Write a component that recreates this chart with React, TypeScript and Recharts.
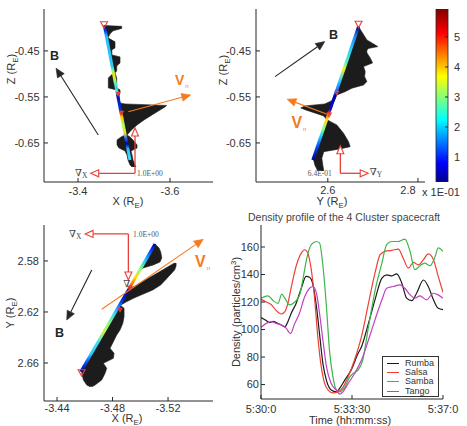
import React from "react";
import {
  ComposedChart, LineChart, BarChart, Line, Area, Bar, XAxis, YAxis,
  ReferenceLine, ReferenceDot, Legend,
} from "recharts";

const FONT = "'Liberation Sans', Arial, Helvetica, sans-serif";
const SERIF = "'Liberation Serif', 'DejaVu Serif', serif";
const INK = "#262626";
const ORANGE = "#f47b20";
const RED = "#e8403a";

// density of the four spacecraft: [seconds after 05:30:00, particles/cm^3]
const RUMBA = [[0, 108.7], [12, 106.5], [20, 105], [28, 106], [35, 105], [47, 103.3], [55, 102], [62, 105.7], [70, 112], [81, 119], [93, 130], [104, 138.6], [112, 138], [120, 132.5], [128, 116.7], [135, 97], [143, 75], [151, 63], [162, 56], [174, 54.7], [181, 57], [193, 63], [208, 70.5], [224, 82.6], [232, 87.5], [248, 104.5], [263, 121.6], [279, 137.4], [290, 139.8], [302, 139], [313, 140.5], [325, 133.7], [336, 122.8], [348, 121], [359, 126.4], [375, 136], [386, 131.3], [398, 121.6], [409, 115.5], [420, 114.5]];
const SALSA = [[0, 122], [12, 120], [24, 118], [35, 113.8], [47, 111.3], [55, 113], [62, 119], [70, 131], [81, 146], [93, 155.6], [101, 158], [108, 155.6], [116, 143.5], [124, 121.6], [131, 95], [139, 73], [147, 60.7], [155, 56], [166, 54], [178, 54.7], [189, 58], [201, 65.6], [216, 78], [232, 95], [248, 119], [263, 141], [275, 154.4], [286, 156.8], [302, 157.6], [317, 158.5], [328, 152], [340, 144.7], [352, 148.8], [363, 147], [375, 150.8], [386, 155], [398, 150.8], [409, 138.6], [420, 127]];
const SAMBA = [[0, 122.8], [16, 124.5], [28, 121], [39, 119], [48, 125.7], [55, 122.8], [66, 118], [78, 120], [89, 125], [97, 137], [105, 150.8], [116, 161.7], [128, 164], [135, 163], [143, 146], [151, 116.7], [158, 85], [166, 65.6], [174, 56], [181, 54.7], [193, 58], [205, 65.6], [212, 68], [224, 70.5], [235, 78], [248, 102], [263, 128], [279, 148.3], [290, 161.7], [302, 164], [317, 164], [332, 165.8], [344, 156.8], [355, 143.5], [367, 146.4], [378, 148.3], [390, 146.4], [402, 153.2], [409, 159.3], [420, 156.8]];
const TANGO = [[0, 101.6], [12, 104.5], [24, 105.7], [35, 104.5], [47, 103.3], [58, 101], [68, 97], [78, 104.5], [89, 112], [101, 124], [112, 130], [120, 131.3], [128, 126.4], [135, 112], [143, 92], [151, 73], [162, 60.7], [174, 56], [181, 53], [189, 54.7], [201, 60.7], [216, 68], [232, 77.8], [248, 92.4], [263, 107], [279, 121.6], [290, 130], [305, 131.3], [321, 132.5], [332, 130], [344, 125.2], [355, 122.8], [367, 124.5], [382, 121.6], [398, 126.4], [409, 125.2], [420, 122.8]];
const TIME_TICKS = [0, 210, 420];
const TIME_LABELS = ["5:30:0", "5:33:30", "5:37:0"];
const DENSITY_TICKS = [60, 80, 100, 120, 140, 160];

// X-Z projection (R_E)
const XZ_TRACK = [[-3.4572, -0.395], [-3.513, -0.687]];
const XZ_FIN_Z = [-0.395, -0.3967, -0.4011, -0.4065, -0.413, -0.4217, -0.4304, -0.4435, -0.4478, -0.4587, -0.463, -0.4761, -0.4826, -0.4935, -0.4978, -0.5087, -0.5304, -0.5348, -0.5413, -0.5478, -0.563, -0.5652, -0.5685, -0.5717, -0.5783, -0.5891, -0.6, -0.6109, -0.6217, -0.6326, -0.637, -0.6435, -0.6543, -0.6609, -0.6674, -0.6761, -0.687, -0.6978, -0.7022];
const XZ_FIN_LO = [-3.4572, -3.4574, -3.4583, -3.4593, -3.4607, -3.4622, -3.4641, -3.4665, -3.4674, -3.4696, -3.4702, -3.4728, -3.4739, -3.4761, -3.4772, -3.4659, -3.4659, -3.4837, -3.4848, -3.4863, -3.4891, -3.4896, -3.4902, -3.4909, -3.4922, -3.4941, -3.4963, -3.4985, -3.5004, -3.5026, -3.4935, -3.4848, -3.4848, -3.4891, -3.5022, -3.5065, -3.5087, -3.513, -3.5174];
const XZ_FIN_HI = [-3.4572, -3.495, -3.495, -3.4761, -3.4696, -3.4652, -3.4804, -3.4804, -3.4733, -3.4739, -3.4913, -3.4913, -3.4841, -3.4841, -3.4804, -3.4841, -3.4841, -3.4913, -3.4913, -3.4891, -3.4913, -3.5022, -3.5928, -3.5891, -3.5783, -3.5609, -3.5435, -3.5283, -3.5163, -3.5065, -3.513, -3.5196, -3.5283, -3.5283, -3.5152, -3.5174, -3.5196, -3.5239, -3.5261];

// Y-Z projection (R_E)
const YZ_TRACK = [[2.6682, -0.3972], [2.5667, -0.687]];
const YZ_FIN_Z = [-0.3972, -0.4087, -0.4261, -0.4407, -0.4446, -0.4478, -0.4543, -0.4652, -0.4761, -0.4841, -0.495, -0.5059, -0.5167, -0.5239, -0.5311, -0.5385, -0.5457, -0.5565, -0.5652, -0.5696, -0.5739, -0.5783, -0.5848, -0.5913, -0.6, -0.6109, -0.6289, -0.6472, -0.658, -0.663, -0.6689, -0.6833, -0.6978, -0.7109];
const YZ_FIN_LO = [2.6682, 2.6642, 2.658, 2.6529, 2.6516, 2.6504, 2.6482, 2.6444, 2.6404, 2.6378, 2.634, 2.6302, 2.6262, 2.6238, 2.6213, 2.6187, 2.6162, 2.6124, 2.5933, 2.5489, 2.54, 2.5511, 2.5711, 2.5911, 2.5978, 2.5933, 2.5867, 2.58, 2.5767, 2.5749, 2.5729, 2.5678, 2.5711, 2.5778];
const YZ_FIN_HI = [2.6682, 2.6756, 2.6867, 2.7111, 2.6904, 2.6867, 2.6867, 2.694, 2.6993, 2.6793, 2.6829, 2.6816, 2.6867, 2.6793, 2.6533, 2.6384, 2.62, 2.6156, 2.6111, 2.61, 2.6084, 2.6067, 2.6033, 2.6011, 2.5989, 2.62, 2.6349, 2.646, 2.6496, 2.6267, 2.5911, 2.5867, 2.5889, 2.5911];

// X-Y projection (R_E)
const XY_TRACK = [[-3.5106, 2.5667], [-3.4571, 2.6668]];
const XY_FIN_A_Y = [2.5667, 2.5698, 2.5729, 2.5776, 2.5808, 2.5831, 2.5855, 2.5871, 2.6129, 2.6145, 2.6171, 2.6237, 2.6289, 2.6341, 2.638, 2.6433, 2.6485, 2.6524, 2.6563, 2.6602, 2.6642, 2.6681, 2.6733, 2.6773, 2.6786];
const XY_FIN_A_LO = [-3.5106, -3.509, -3.5072, -3.5047, -3.5031, -3.5018, -3.5005, -3.4997, -3.4858, -3.485, -3.4837, -3.4801, -3.4773, -3.4745, -3.4724, -3.4696, -3.4669, -3.4648, -3.4627, -3.4606, -3.459, -3.4578, -3.459, -3.4614, -3.4638];
const XY_FIN_A_HI = [-3.5106, -3.5135, -3.5147, -3.5155, -3.5142, -3.5094, -3.502, -3.4997, -3.4858, -3.4854, -3.4883, -3.4883, -3.4874, -3.4854, -3.483, -3.4806, -3.4782, -3.4811, -3.4806, -3.4734, -3.4758, -3.4746, -3.4722, -3.4674, -3.4652];
const XY_FIN_B_Y = [2.5816, 2.5839, 2.5871, 2.591, 2.5949, 2.5988, 2.6027, 2.6067, 2.609, 2.6122, 2.6145];
const XY_FIN_B_LO = [-3.5247, -3.5209, -3.516, -3.5098, -3.5036, -3.4974, -3.4912, -3.489, -3.488, -3.4863, -3.4854];
const XY_FIN_B_HI = [-3.5258, -3.5258, -3.5247, -3.5214, -3.5181, -3.5147, -3.509, -3.5005, -3.4955, -3.4897, -3.4861];

const CBAR_RANGE = [0.17, 5.93];
const CBAR_TICKS = [1, 2, 3, 4, 5];

const SERIES = [
  { name: "Rumba", points: RUMBA, color: "#1a1a1a" },
  { name: "Salsa", points: SALSA, color: "#ee4035" },
  { name: "Samba", points: SAMBA, color: "#3db54a" },
  { name: "Tango", points: TANGO, color: "#c23fc2" },
];

const JET = [[0, "#00008f"], [0.11, "#0000ff"], [0.36, "#00ffff"], [0.61, "#ffff00"], [0.86, "#ff0000"], [1, "#800000"]];

function arrowShape(color: string, open: boolean, head = 9, half = 4, width = 1.1) {
  return (p: any) => {
    const { x1, y1, x2, y2 } = p;
    const dx = x2 - x1, dy = y2 - y1;
    const len = Math.hypot(dx, dy) || 1;
    const ux = dx / len, uy = dy / len;
    const bx = x2 - ux * head, by = y2 - uy * head;
    const pts = `${x2},${y2} ${bx - uy * half},${by + ux * half} ${bx + uy * half},${by - ux * half}`;
    return (
      <g>
        <line x1={x1} y1={y1} x2={bx} y2={by} stroke={color} strokeWidth={width} />
        <polygon points={pts} fill={open ? "#fff" : color} stroke={color} strokeWidth={open ? 1.1 : 0.6} />
      </g>
    );
  };
}

function markShape(size: number) {
  return (p: any) => {
    const { cx, cy } = p;
    const w = size / 2, h = size * 0.45;
    return <polygon points={`${cx - w},${cy - h} ${cx + w},${cy - h} ${cx},${cy + h}`} fill="none" stroke={RED} strokeWidth={1.1} />;
  };
}

function noteShape(n: any) {
  return (p: any) => {
    const { cx, cy } = p;
    if (n.kind === "B")
      return <text x={cx} y={cy} fontFamily={FONT} fontWeight="bold" fontSize={12.5} fill={INK}>B</text>;
    if (n.kind === "V")
      return (
        <text x={cx} y={cy} fontFamily={FONT} fontWeight="bold" fontSize={n.size} fill={ORANGE}>
          V<tspan fontSize={6} fontWeight="normal" dx={1} dy={3}>n</tspan>
        </text>
      );
    if (n.kind === "grad")
      return (
        <text x={cx} y={cy} fontFamily={SERIF} fontSize={10} fill="#444">
          ∇{n.sub && <tspan fontSize={7.5} dy={2}>{n.sub}</tspan>}
        </text>
      );
    return <text x={cx} y={cy} fontFamily={SERIF} fontSize={7.5} fill="#555">{n.text}</text>;
  };
}

function AxisText({ x, y, vertical, main, sub, sup, size = 11 }: any) {
  return (
    <text x={x} y={y} textAnchor="middle" fontFamily={FONT} fontSize={size} fill="#333"
      transform={vertical ? `rotate(-90 ${x} ${y})` : undefined}>
      {main}
      {sub && <tspan fontSize={size * 0.72} dy={3}>{sub}</tspan>}
      {sup && <tspan fontSize={size * 0.72} dy={-4}>{sup}</tspan>}
      {(sub || sup) && <tspan dy={sub ? -3 : 4}>)</tspan>}
    </text>
  );
}

// x tick with an optional sideways nudge of its label
function xTick(format: (v: number) => string, nudge: Record<string, number>) {
  return (p: any) => {
    const v = p.payload.value;
    return (
      <text x={p.x + (nudge[String(v)] || 0)} y={p.y} dy="0.71em" textAnchor="middle"
        fontFamily={FONT} fontSize={11} fill="#333">{format(v)}</text>
    );
  };
}

const PANELS: any[] = [
  {
    id: "xz", left: 0, top: 0, width: 232, height: 212,
    margin: { top: 9, right: 19, bottom: 0, left: 0 }, yAxisWidth: 44, xAxisHeight: 30,
    xDomain: [-3.6935, -3.326], xTicks: [-3.6, -3.4], xReversed: true, xFormat: (v: number) => v.toFixed(1), xNudge: {}, xTickMargin: 9,
    yDomain: [-0.7348, -0.359], yTicks: [-0.65, -0.55, -0.45], yReversed: true, yFormat: (v: number) => v.toFixed(2), yTickMargin: 8.5,
    track: XZ_TRACK,
    stops: [[0, "#000090"], [0.04, "#0040ff"], [0.08, "#20c0ff"], [0.3, "#30c8f8"], [0.34, "#90ff70"], [0.37, "#ffe000"], [0.41, "#90ff70"], [0.46, "#30d0ff"], [0.5, "#50ffa0"], [0.52, "#0010c0"], [0.63, "#0030e0"], [0.65, "#f03010"], [0.68, "#ffc800"], [0.74, "#a8ff58"], [0.8, "#f0e020"], [0.84, "#2060ff"], [0.88, "#0000a0"], [0.92, "#30c0ff"], [1, "#40e0ff"]],
    fins: [{ v: XZ_FIN_Z, lo: XZ_FIN_LO, hi: XZ_FIN_HI }],
    arrows: [
      { from: [-3.4441, -0.6326], to: [-3.3522, -0.4876], color: INK },
      { from: [-3.5093, -0.582], to: [-3.645, -0.5457], color: ORANGE },
    ],
    corner: [-3.5239, -0.7159], ends: [[-3.5239, -0.6174], [-3.4276, -0.7159]],
    marks: [{ at: [-3.4565, -0.3935], size: 7 }, { at: [-3.487, -0.5435], size: 3.5 }, { at: [-3.4946, -0.5848], size: 3.5 }],
    notes: [
      { at: [-3.3391, -0.4696], kind: "B" },
      { at: [-3.6109, -0.5239], kind: "V", size: 14 },
      { at: [-3.3935, -0.7217], kind: "grad", sub: "X" },
      { at: [-3.5283, -0.7217], kind: "num", text: "1.0E+00" },
    ],
    titles: () => (
      <g>
        <AxisText x={15} y={69} vertical main="Z (R" sub="E" />
        <AxisText x={128} y={205} main="X (R" sub="E" />
      </g>
    ),
  },
  {
    id: "yz", left: 212, top: 0, width: 255, height: 212,
    margin: { top: 9, right: 42, bottom: 0, left: 0 }, yAxisWidth: 44, xAxisHeight: 30,
    xDomain: [2.4407, 2.8156], xTicks: [2.6, 2.8], xReversed: false, xFormat: (v: number) => v.toFixed(1), xNudge: { "2.8": -10 }, xTickMargin: 8,
    yDomain: [-0.7348, -0.359], yTicks: [-0.65, -0.55, -0.45], yReversed: true, yFormat: (v: number) => v.toFixed(2), yTickMargin: 9,
    track: YZ_TRACK,
    stops: [[0, "#000090"], [0.07, "#2080ff"], [0.17, "#20d0ff"], [0.27, "#60f0c0"], [0.32, "#f0f020"], [0.4, "#30d0ff"], [0.48, "#2070ff"], [0.52, "#0000b0"], [0.62, "#0010d0"], [0.65, "#ff4010"], [0.7, "#ffe020"], [0.77, "#80ff80"], [0.82, "#20d0ff"], [0.9, "#0050ff"], [1, "#000090"]],
    fins: [{ v: YZ_FIN_Z, lo: YZ_FIN_LO, hi: YZ_FIN_HI }],
    arrows: [
      { from: [2.4829, -0.5059], to: [2.5933, -0.4298], color: INK },
      { from: [2.6029, -0.5891], to: [2.5096, -0.555], color: ORANGE },
    ],
    corner: [2.6278, -0.7159], ends: [[2.6278, -0.6559], [2.6896, -0.7159]],
    marks: [{ at: [2.6682, -0.3924], size: 7 }, { at: [2.62, -0.5413], size: 3.5 }, { at: [2.6033, -0.5891], size: 4 }],
    notes: [
      { at: [2.6029, -0.4246], kind: "B" },
      { at: [2.5193, -0.618], kind: "V", size: 16 },
      { at: [2.5556, -0.7217], kind: "num", text: "6.4E-01" },
      { at: [2.6933, -0.7196], kind: "grad", sub: "Y" },
    ],
    titles: () => (
      <g>
        <AxisText x={15} y={70} vertical main="Z (R" sub="E" />
        <AxisText x={120} y={204.5} main="Y (R" sub="E" />
      </g>
    ),
  },
  {
    id: "xy", left: 0, top: 210, width: 232, height: 216,
    margin: { top: 15, right: 19, bottom: 0, left: 0 }, yAxisWidth: 44, xAxisHeight: 25,
    xDomain: [-3.5524, -3.4306], xTicks: [-3.52, -3.48, -3.44], xReversed: true, xFormat: (v: number) => v.toFixed(2), xNudge: {}, xTickMargin: 7,
    yDomain: [2.5518, 2.6898], yTicks: [2.58, 2.62, 2.66], yReversed: false, yFormat: (v: number) => v.toFixed(2), yTickMargin: 9,
    track: XY_TRACK,
    stops: [[0, "#000090"], [0.05, "#0040ff"], [0.13, "#20c8ff"], [0.2, "#90ff70"], [0.26, "#ffe000"], [0.33, "#ff5010"], [0.37, "#0000a0"], [0.44, "#0030e0"], [0.49, "#2080ff"], [0.54, "#30d0ff"], [0.62, "#80ff80"], [0.69, "#d0f040"], [0.77, "#40e0f0"], [0.86, "#30c8ff"], [0.93, "#0050ff"], [1, "#000090"]],
    fins: [{ v: XY_FIN_A_Y, lo: XY_FIN_A_LO, hi: XY_FIN_A_HI }, { v: XY_FIN_B_Y, lo: XY_FIN_B_LO, hi: XY_FIN_B_HI }],
    arrows: [
      { from: [-3.465, 2.5871], to: [-3.447, 2.6263], color: INK },
      { from: [-3.4722, 2.6179], to: [-3.5454, 2.563], color: ORANGE },
    ],
    corner: [-3.4914, 2.5588], ends: [[-3.4914, 2.5949], [-3.4602, 2.5588]],
    marks: [{ at: [-3.4577, 2.6678], size: 7 }, { at: [-3.4854, 2.6184], size: 3.5 }, { at: [-3.4926, 2.6012], size: 4 }],
    notes: [
      { at: [-3.4486, 2.5612], kind: "grad", sub: "X" },
      { at: [-3.4948, 2.5612], kind: "num", text: "1.0E+00" },
      { at: [-3.4878, 2.6004], kind: "grad" },
      { at: [-3.4386, 2.6394], kind: "B" },
      { at: [-3.5395, 2.585], kind: "V", size: 16 },
    ],
    titles: () => (
      <g>
        <AxisText x={14} y={103} vertical main="Y (R" sub="E" />
        <AxisText x={127} y={212} main="X (R" sub="E" />
      </g>
    ),
  },
];

function OrbitPanel({ cfg }: { cfg: any }) {
  const track = cfg.track.map(([h, v]: number[]) => ({ h, v }));
  const fins = cfg.fins.map((f: any) => f.v.map((v: number, i: number) => ({ v, r: [f.lo[i], f.hi[i]] })));
  const tickProps = { fontSize: 11, fill: "#333", fontFamily: FONT };
  const gid = `track-${cfg.id}`;
  const pt = (a: number[]) => ({ x: a[0], y: a[1] });
  return (
    <div style={{ position: "absolute", left: cfg.left, top: cfg.top }}>
      <ComposedChart layout="vertical" width={cfg.width} height={cfg.height} margin={cfg.margin}>
        <defs>
          <linearGradient id={gid} x1="0" y1="0" x2="0" y2="1">
            {cfg.stops.map(([o, c]: any, i: number) => <stop key={i} offset={o} stopColor={c} />)}
          </linearGradient>
        </defs>
        <XAxis type="number" domain={cfg.xDomain} ticks={cfg.xTicks} reversed={cfg.xReversed} allowDataOverflow
          height={cfg.xAxisHeight} tickSize={-4} tickMargin={cfg.xTickMargin}
          tick={xTick(cfg.xFormat, cfg.xNudge)} stroke={INK} label={cfg.titles} />
        <XAxis xAxisId="top" orientation="top" type="number" domain={cfg.xDomain} ticks={cfg.xTicks}
          reversed={cfg.xReversed} allowDataOverflow height={0} tickSize={-4} tickFormatter={() => ""} stroke={INK} />
        <YAxis type="number" dataKey="v" domain={cfg.yDomain} ticks={cfg.yTicks} reversed={cfg.yReversed} allowDataOverflow
          width={cfg.yAxisWidth} tickSize={-4} tickMargin={cfg.yTickMargin} tick={tickProps}
          tickFormatter={cfg.yFormat} stroke={INK} />
        <YAxis yAxisId="right" orientation="right" type="number" dataKey="v" domain={cfg.yDomain} ticks={cfg.yTicks}
          reversed={cfg.yReversed} allowDataOverflow width={0} tickSize={-4} tickFormatter={() => ""} stroke={INK} />
        {fins.map((d: any, i: number) => (
          <Area key={i} data={d} dataKey="r" type="linear" fill="#1c1c1c" fillOpacity={1} stroke="#1c1c1c"
            strokeWidth={0.6} dot={false} activeDot={false} isAnimationActive={false} />
        ))}
        <Line data={track} dataKey="h" type="linear" stroke={`url(#${gid})`} strokeWidth={3}
          dot={false} activeDot={false} isAnimationActive={false} />
        {cfg.arrows.map((a: any, i: number) => (
          <ReferenceLine key={`a${i}`} segment={[pt(a.from), pt(a.to)]} ifOverflow="visible" shape={arrowShape(a.color, false)} />
        ))}
        {cfg.ends.map((e: number[], i: number) => (
          <ReferenceLine key={`g${i}`} segment={[pt(cfg.corner), pt(e)]} ifOverflow="visible" shape={arrowShape(RED, true, 8, 3.5, 1.3)} />
        ))}
        {cfg.marks.map((m: any, i: number) => (
          <ReferenceDot key={`m${i}`} x={m.at[0]} y={m.at[1]} ifOverflow="visible" shape={markShape(m.size)} />
        ))}
        {cfg.notes.map((n: any, i: number) => (
          <ReferenceDot key={`n${i}`} x={n.at[0]} y={n.at[1]} ifOverflow="visible" shape={noteShape(n)} />
        ))}
      </ComposedChart>
    </div>
  );
}

function ColorBar() {
  return (
    <div style={{ position: "absolute", left: 415, top: 0 }}>
      <BarChart width={52} height={212} data={[{ k: "c", v: CBAR_RANGE }]} margin={{ top: 9, right: 0, bottom: 30, left: 21 }} barCategoryGap={0}>
        <defs>
          <linearGradient id="jet" x1="0" y1="1" x2="0" y2="0">
            {JET.map(([o, c]: any, i: number) => <stop key={i} offset={o} stopColor={c} />)}
          </linearGradient>
        </defs>
        <XAxis dataKey="k" type="category" hide />
        <YAxis orientation="right" type="number" domain={CBAR_RANGE} ticks={CBAR_TICKS} allowDataOverflow width={19}
          tickSize={-3} tickMargin={9} axisLine={false} stroke={INK}
          tick={{ fontSize: 11, fill: "#333", fontFamily: FONT }}
          label={() => <text x={7} y={196} fontFamily={FONT} fontSize={11} fill="#333">x 1E-01</text>} />
        <Bar dataKey="v" fill="url(#jet)" stroke={INK} strokeWidth={0.8} isAnimationActive={false} />
      </BarChart>
    </div>
  );
}

function LegendBox(props: any) {
  const items = props.payload && props.payload.length ? props.payload : SERIES.map((s) => ({ value: s.name, color: s.color }));
  return (
    <div style={{ width: 57, height: 41, boxSizing: "border-box", border: "1px solid #333", background: "#fff", paddingTop: 1.7, fontFamily: FONT, fontSize: 9, color: "#333" }}>
      {items.map((it: any) => (
        <div key={it.value} style={{ display: "flex", alignItems: "center", height: 9.3, lineHeight: "9.3px" }}>
          <span style={{ display: "inline-block", width: 12, height: 0, borderTop: `1.3px solid ${it.color}`, marginLeft: 4, marginRight: 6 }} />
          <span>{it.value}</span>
        </div>
      ))}
    </div>
  );
}

function DensityPanel() {
  const tickProps = { fontSize: 11, fill: "#333", fontFamily: FONT };
  return (
    <div style={{ position: "absolute", left: 228, top: 205 }}>
      <LineChart width={239} height={221} margin={{ top: 20, right: 24, bottom: 0, left: 0 }}>
        <XAxis type="number" dataKey="t" domain={[0, 420]} ticks={TIME_TICKS} allowDataOverflow height={27}
          tickSize={-4} tickMargin={10} tick={tickProps} stroke={INK}
          tickFormatter={(v: number) => TIME_LABELS[TIME_TICKS.indexOf(v)]}
          label={() => (
            <g>
              <text x={116} y={15.5} textAnchor="middle" fontFamily={FONT} fontSize={10.5} fill="#444">
                Density profile of the 4 Cluster spacecraft
              </text>
              <AxisText x={12} y={107} vertical main="Density (particles/cm" sup="3" />
              <AxisText x={122} y={218.5} main="Time (hh:mm:ss)" />
            </g>
          )} />
        <XAxis xAxisId="top" orientation="top" type="number" domain={[0, 420]} ticks={TIME_TICKS} allowDataOverflow
          height={0} tickSize={-4} tickFormatter={() => ""} stroke={INK} />
        <YAxis type="number" domain={[49.5, 176]} ticks={DENSITY_TICKS} allowDataOverflow width={33}
          tickSize={-4} tickMargin={6} tick={tickProps} stroke={INK} />
        <YAxis yAxisId="right" orientation="right" type="number" domain={[49.5, 176]} ticks={DENSITY_TICKS} allowDataOverflow
          width={0} tickSize={-4} tickFormatter={() => ""} stroke={INK} />
        {SERIES.map((s) => (
          <Line key={s.name} name={s.name} data={s.points.map(([t, v]) => ({ t, v }))} dataKey="v" type="monotone"
            stroke={s.color} strokeWidth={1.2} dot={false} activeDot={false} isAnimationActive={false} />
        ))}
        <Legend layout="horizontal" verticalAlign="middle" align="center" content={LegendBox}
          wrapperStyle={{ left: 154, top: 151, width: 57, height: 41 }} />
      </LineChart>
    </div>
  );
}

export default function App() {
  return (
    <div style={{ position: "absolute", left: 0, top: 0, width: 467, height: 426, overflow: "hidden", background: "#fff" }}>
      {PANELS.map((p) => <OrbitPanel key={p.id} cfg={p} />)}
      <ColorBar />
      <DensityPanel />
    </div>
  );
}
